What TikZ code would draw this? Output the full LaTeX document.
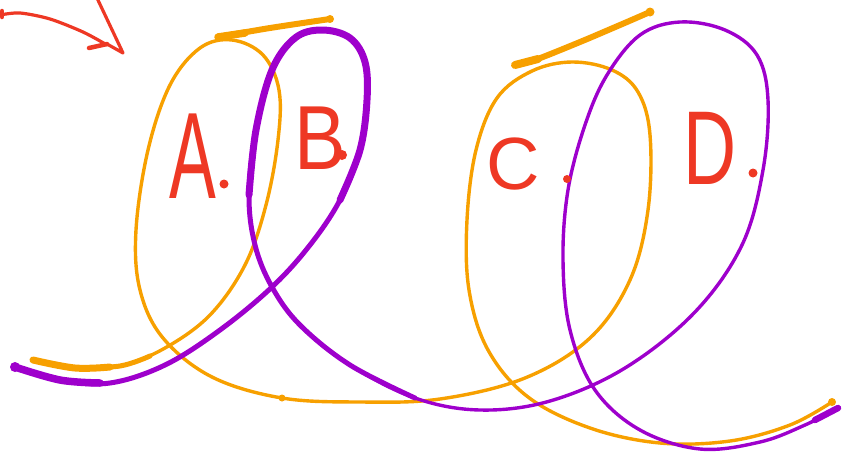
\documentclass[tikz,border=0pt]{standalone}
\usepackage{fontspec}
\setmainfont{Liberation Sans}
\usetikzlibrary{calc}

\definecolor{penorange}{RGB}{247,160,0}
\definecolor{penpurple}{RGB}{158,0,204}
\definecolor{penred}{RGB}{238,56,36}

\begin{document}
\begin{tikzpicture}[x=1pt, y=-1pt, line cap=round, line join=round,
    orangepen/.style={penorange, line width=3.4pt},
    purplepen/.style={penpurple, line width=3.4pt},
    redpen/.style={penred, line width=3.2pt},
    letter/.style={penred, inner sep=0pt}]

    \useasboundingbox (0,0) rectangle (842,455);

    % --- Red arrow (top left) ---
    \coordinate (arrowtip) at (123,53);
    \draw[redpen] plot[smooth] coordinates {(0,15) (20,13) (50,19) (83,32) (107,45)};
    \draw[redpen] (97,-2) -- (arrowtip) -- (107,44);
    \draw[redpen, line width=4.5pt] (107,44) -- (89,48);
    \draw[redpen, line width=4.5pt] (2,11) -- (2,17);

    % --- Orange loops (A and C) ---
    \draw[orangepen] plot[smooth, tension=0.6] coordinates {(33,360) (75,368) (120,366) (165,348) (210,315) (245,265) (266,205) (278,140) (279,90) (263,55) (232,40) (200,48) (170,85) (148,150) (136,230) (140,290) (163,338) (212,377) (282,398) (360,402) (440,399) (525,378) (590,338) (630,280) (648,210) (650,135) (638,92) (612,70) (572,62) (532,71) (497,98) (476,150) (467,220) (469,290) (488,350) (528,397) (590,428) (660,443) (730,441) (790,425) (832,402)};
    % thick start
    \draw[penorange, line width=7pt] plot[smooth, tension=0.6] coordinates {(33,360) (75,368) (110,367)};
    \draw[penorange, line width=5pt] plot[smooth, tension=0.6] coordinates {(75,368) (120,366) (150,356)};
    % top strokes
    \draw[penorange, line width=6pt] plot[smooth] coordinates {(218,37) (270,28) (330,19)};
    \draw[penorange, line width=7.5pt] (218,37) -- (245,33);
    \fill[penorange] (330,19) circle (4);
    \draw[penorange, line width=6pt] plot[smooth] coordinates {(515,65) (535,60) (580,42) (620,25) (650,12)};
    \draw[penorange, line width=8pt] (515,65) -- (538,59);
    \fill[penorange] (650,12) circle (4.5);
    % dots
    \fill[penorange] (282,398) circle (3.5);
    \fill[penorange] (832,402) circle (4);

    % --- Purple loops (B and D) ---
    \draw[purplepen] plot[smooth, tension=0.6] coordinates {(15,367) (60,380) (110,383) (165,365) (220,330) (272,287) (310,245) (340,200) (360,150) (367,100) (365,62) (350,38) (322,30) (295,38) (272,70) (256,130) (249,195) (255,245) (272,287) (300,325) (350,365) (415,398) (480,410) (550,401) (625,368) (695,312) (742,245) (763,170) (768,100) (757,55) (725,30) (680,22) (640,35) (607,75) (585,125) (568,190) (563,260) (570,330) (595,390) (640,430) (700,449) (760,442) (805,425) (838,408)};
    % thicker B loop
    \draw[penpurple, line width=5pt] plot[smooth, tension=0.6] coordinates {(15,367) (60,380) (110,383) (165,365) (220,330) (272,287) (310,245) (340,200) (360,150) (367,100) (365,62) (350,38) (322,30) (295,38) (272,70) (256,130) (249,195) (255,245) (272,287) (300,325) (350,365) (415,398)};
    \draw[penpurple, line width=7pt] plot[smooth, tension=0.6] coordinates {(340,200) (360,150) (367,100) (365,62) (350,38) (322,30) (295,38) (272,70) (256,130) (249,195)};
    \draw[penpurple, line width=7.5pt] plot[smooth, tension=0.6] coordinates {(15,367) (60,380) (100,383)};
    \fill[penpurple] (15,367) circle (5);
    \draw[penpurple, line width=6.5pt] (815,420) -- (838,408);

    % --- Letters ---
    \node[letter, font=\fontsize{123}{123}\selectfont, xscale=0.57] (A) at (193,156) {A};
    \node[letter, font=\fontsize{91}{91}\selectfont, xscale=0.85] (B) at (320,138) {B};
    \node[letter, font=\fontsize{74}{74}\selectfont, xscale=1.0] (C) at (513,164) {C};
    \node[letter, font=\fontsize{105}{105}\selectfont, xscale=0.7] (D) at (710,148) {D};
    % letter dots
    \fill[penred] (224,184) circle (4.5);
    \fill[penred] (342,155) circle (5);
    \fill[penred] (567,179) circle (4);
    \fill[penred] (753,173) circle (4.5);

\end{tikzpicture}
\end{document}
